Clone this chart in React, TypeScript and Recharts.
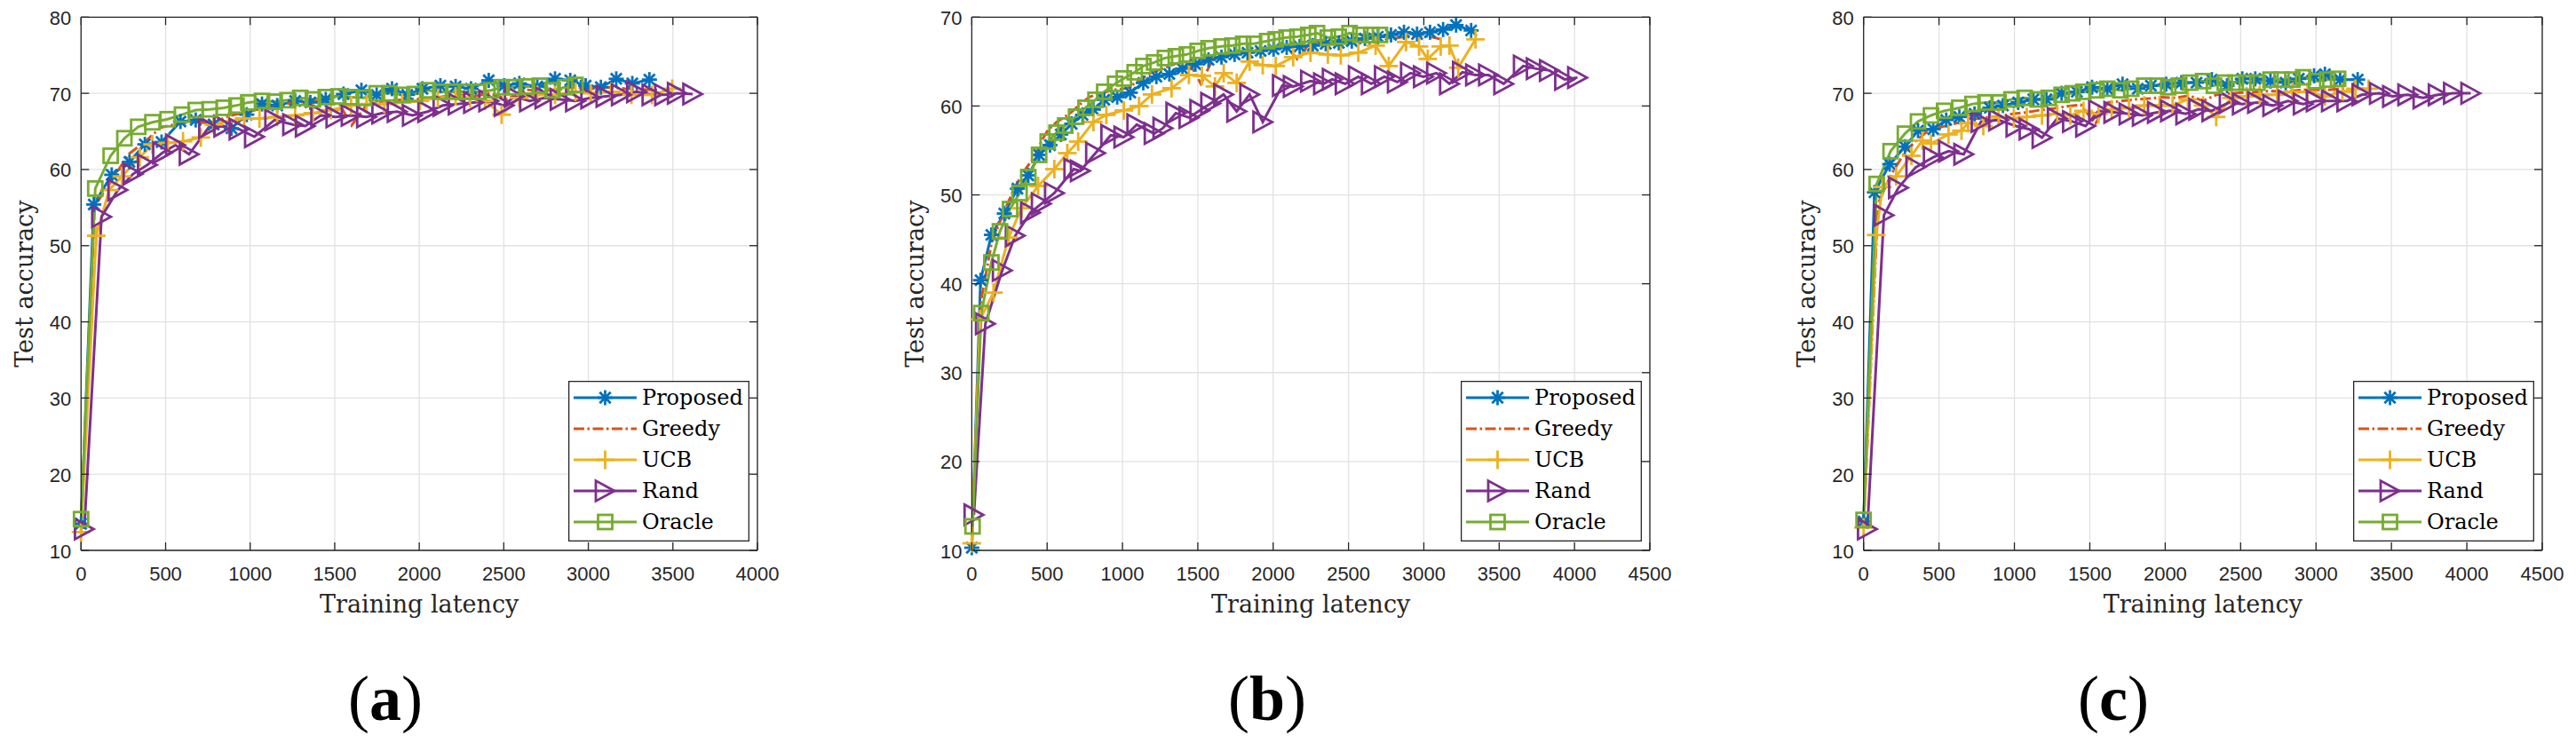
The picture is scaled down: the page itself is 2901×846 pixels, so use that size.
import React from 'react';
import { LineChart, Line, XAxis, YAxis, CartesianGrid, ReferenceLine, Legend } from 'recharts';

// ---------- Panel (a) ----------
const A_PROPOSED_X = [0, 75, 181, 286, 377, 476, 588, 678, 784, 889, 980, 1070, 1160, 1266, 1356, 1447, 1552, 1658, 1748, 1839, 1929, 2019, 2125, 2215, 2306, 2411, 2502, 2592, 2698, 2803, 2893, 2984, 3074, 3165, 3260, 3361];
const A_PROPOSED_Y = [13.5, 55.4, 59.3, 61.0, 63.3, 63.6, 66.3, 66.5, 65.9, 65.4, 67.2, 68.6, 68.4, 69.0, 68.8, 69.2, 69.9, 70.4, 69.8, 70.6, 69.8, 70.6, 71.0, 70.9, 70.6, 71.7, 71.0, 71.3, 70.9, 71.9, 71.7, 71.0, 70.8, 71.9, 71.3, 71.8];
const A_GREEDY_X = [0, 80, 180, 280, 370, 470, 570, 670, 770, 870, 970, 1070, 1170, 1270, 1370, 1470, 1530, 1600, 1690, 1820, 1920, 2020, 2120, 2220, 2320, 2420, 2520, 2620, 2720, 2820, 2920, 3020, 3120, 3220, 3320, 3420];
const A_GREEDY_Y = [13.3, 55.2, 58.5, 62.0, 63.5, 65.5, 66.0, 66.3, 66.0, 67.0, 67.5, 68.0, 68.5, 68.8, 69.0, 68.7, 68.5, 65.8, 68.5, 69.0, 69.2, 69.3, 69.5, 69.8, 69.6, 70.0, 69.2, 70.5, 70.3, 70.5, 70.8, 70.6, 70.8, 70.6, 70.5, 70.4];
const A_UCB_X = [0, 90, 166, 241, 347, 422, 512, 603, 708, 784, 874, 964, 1055, 1160, 1266, 1371, 1477, 1597, 1688, 1793, 1899, 2004, 2110, 2215, 2300, 2390, 2487, 2592, 2698, 2803, 2924, 3014, 3135, 3255, 3376, 3496];
const A_UCB_Y = [12.4, 51.3, 57.3, 59.1, 61.6, 63.3, 63.5, 63.7, 64.2, 65.9, 66.3, 66.7, 66.7, 66.9, 67.1, 67.4, 67.8, 68.4, 68.6, 68.6, 68.8, 69.0, 69.4, 69.6, 69.4, 69.0, 67.2, 69.4, 69.8, 69.8, 70.2, 70.0, 70.2, 69.8, 69.8, 70.6];
const A_RAND_X = [19, 121, 217, 307, 392, 482, 558, 639, 754, 844, 934, 1025, 1145, 1251, 1326, 1417, 1507, 1597, 1688, 1778, 1869, 1959, 2050, 2140, 2230, 2321, 2411, 2502, 2562, 2652, 2743, 2833, 2924, 3014, 3104, 3195, 3285, 3376, 3451, 3526, 3617];
const A_RAND_Y = [12.8, 53.8, 57.3, 59.4, 60.6, 62.2, 63.2, 62.0, 65.5, 65.7, 65.3, 64.3, 66.5, 65.9, 65.7, 67.1, 66.9, 67.1, 66.9, 67.4, 67.6, 67.1, 67.6, 68.4, 68.6, 68.8, 69.0, 68.4, 69.6, 69.0, 69.4, 69.2, 69.0, 69.4, 69.6, 69.8, 70.2, 69.8, 69.8, 70.0, 69.9];
const A_ORACLE_X = [0, 84, 175, 256, 338, 422, 512, 597, 678, 760, 844, 919, 989, 1070, 1145, 1221, 1296, 1371, 1447, 1522, 1597, 1673, 1748, 1823, 1899, 1974, 2050, 2125, 2200, 2276, 2351, 2426, 2487, 2562, 2637, 2713, 2788, 2863, 2924];
const A_ORACLE_Y = [14.1, 57.5, 61.8, 64.1, 65.6, 66.2, 66.6, 67.2, 67.8, 67.9, 68.1, 68.4, 68.8, 69.0, 68.9, 69.1, 69.4, 69.2, 69.5, 69.6, 69.5, 69.4, 70.0, 70.0, 69.8, 69.9, 70.4, 70.2, 70.2, 70.2, 70.2, 70.4, 70.8, 70.8, 70.9, 71.0, 70.4, 70.8, 71.1];

// ---------- Panel (b) ----------
const B_PROPOSED_X = [0, 58, 130, 216, 303, 375, 447, 519, 591, 663, 735, 807, 879, 965, 1052, 1138, 1225, 1311, 1398, 1484, 1571, 1657, 1744, 1830, 1917, 2003, 2090, 2176, 2263, 2349, 2436, 2522, 2609, 2695, 2782, 2868, 2955, 3041, 3128, 3214, 3314];
const B_PROPOSED_Y = [10.3, 40.4, 45.5, 47.9, 50.7, 52.2, 54.5, 55.6, 56.8, 58.0, 59.0, 59.6, 60.7, 61.0, 61.5, 62.6, 63.3, 63.6, 64.2, 64.7, 65.2, 65.5, 65.8, 66.0, 66.2, 66.4, 66.6, 66.7, 66.8, 67.0, 67.1, 67.3, 67.6, 67.8, 68.0, 68.3, 68.1, 68.3, 68.6, 69.1, 68.5];
const B_GREEDY_X = [0, 60, 130, 210, 290, 360, 417, 470, 506, 563, 610, 661, 720, 779, 850, 935, 1033, 1120, 1200, 1280, 1360, 1440, 1520, 1600, 1680, 1760, 1840, 1920, 2000, 2080, 2160, 2240, 2320, 2400, 2480, 2560, 2640, 2720, 2800, 2880, 2960, 3040, 3120];
const B_GREEDY_Y = [10.5, 38.0, 44.5, 48.0, 51.0, 53.0, 54.3, 56.3, 57.3, 58.2, 58.7, 59.3, 60.2, 61.0, 61.4, 61.8, 62.0, 63.0, 63.8, 64.3, 64.8, 65.0, 62.5, 65.3, 65.8, 66.0, 66.2, 66.4, 66.5, 66.8, 65.3, 67.0, 67.2, 67.3, 67.5, 67.3, 67.6, 67.8, 67.6, 67.8, 68.0, 67.8, 67.5];
const B_UCB_X = [0, 55, 144, 245, 330, 440, 548, 634, 706, 807, 893, 1009, 1110, 1196, 1326, 1441, 1527, 1614, 1672, 1758, 1844, 1931, 2017, 2133, 2248, 2363, 2449, 2565, 2680, 2767, 2882, 2968, 3026, 3112, 3170, 3228, 3343];
const B_UCB_Y = [10.8, 36.0, 39.0, 45.2, 48.5, 51.0, 52.9, 54.7, 56.0, 58.2, 59.0, 59.5, 60.0, 61.3, 62.0, 63.5, 63.4, 62.2, 63.7, 62.6, 65.0, 64.6, 64.5, 65.5, 66.0, 65.8, 65.7, 66.0, 66.8, 64.5, 67.2, 66.7, 65.3, 66.7, 66.8, 64.3, 67.5];
const B_RAND_X = [14, 90, 202, 288, 389, 461, 548, 677, 720, 821, 922, 1009, 1095, 1210, 1268, 1354, 1441, 1513, 1585, 1671, 1758, 1844, 1931, 2061, 2133, 2248, 2334, 2392, 2478, 2565, 2651, 2738, 2824, 2911, 2997, 3084, 3170, 3256, 3343, 3429, 3530, 3660, 3746, 3833, 3934, 4020];
const B_RAND_Y = [14.0, 35.5, 41.5, 45.4, 48.0, 49.0, 50.2, 52.9, 52.7, 54.7, 56.7, 56.5, 57.9, 56.9, 57.5, 59.2, 58.7, 59.5, 60.3, 61.3, 59.4, 61.3, 58.2, 62.3, 62.2, 62.8, 62.5, 63.0, 62.5, 63.3, 62.5, 63.3, 62.7, 63.7, 63.3, 63.7, 62.5, 63.8, 63.5, 63.5, 62.5, 64.5, 64.2, 64.0, 63.0, 63.2];
const B_ORACLE_X = [5, 63, 130, 187, 254, 317, 375, 447, 504, 562, 620, 692, 755, 821, 879, 951, 1009, 1081, 1139, 1210, 1282, 1354, 1427, 1499, 1571, 1657, 1729, 1801, 1873, 1960, 2017, 2089, 2161, 2233, 2291, 2363, 2435, 2507, 2579, 2651, 2709];
const B_ORACLE_Y = [12.7, 36.7, 42.4, 45.9, 48.4, 50.2, 52.0, 54.5, 56.0, 57.0, 57.8, 58.8, 59.8, 60.7, 61.6, 62.5, 63.1, 63.8, 64.5, 64.9, 65.4, 65.6, 65.8, 66.2, 66.5, 66.7, 66.8, 67.0, 67.0, 67.3, 67.5, 67.7, 67.8, 68.0, 68.2, 67.7, 67.8, 68.2, 68.0, 68.0, 68.0];

// ---------- Panel (c) ----------
const C_PROPOSED_X = [0, 72, 173, 274, 361, 462, 548, 635, 736, 837, 924, 1025, 1126, 1212, 1313, 1414, 1515, 1616, 1717, 1818, 1905, 2006, 2107, 2208, 2309, 2410, 2511, 2597, 2698, 2799, 2886, 2987, 3059, 3160, 3276];
const C_PROPOSED_Y = [13.8, 57.0, 60.7, 63.0, 65.1, 65.3, 66.5, 66.9, 67.3, 68.1, 68.4, 68.8, 69.2, 69.2, 70.0, 70.2, 70.8, 70.6, 71.2, 70.6, 71.0, 71.2, 71.4, 71.4, 71.8, 71.0, 71.9, 71.9, 71.6, 71.4, 71.9, 72.3, 72.5, 71.8, 71.8];
const C_GREEDY_X = [0, 96, 184, 282, 360, 437, 520, 635, 720, 810, 900, 990, 1080, 1170, 1260, 1350, 1440, 1537, 1620, 1710, 1800, 1890, 1980, 2070, 2160, 2250, 2340, 2430, 2520, 2610, 2700, 2790, 2880, 2970, 3060, 3150, 3240];
const C_GREEDY_Y = [13.2, 55.5, 59.4, 62.5, 64.0, 65.2, 65.6, 66.2, 66.6, 66.8, 67.0, 67.3, 67.5, 67.8, 68.0, 68.3, 68.5, 66.0, 68.8, 69.0, 69.2, 69.3, 69.5, 69.4, 69.7, 69.0, 69.8, 70.0, 70.1, 70.2, 70.3, 70.2, 70.4, 70.5, 70.4, 70.6, 70.5];
const C_UCB_X = [0, 84, 125, 216, 317, 390, 447, 563, 649, 693, 794, 895, 996, 1082, 1183, 1284, 1371, 1458, 1558, 1645, 1760, 1861, 1962, 2049, 2150, 2251, 2338, 2439, 2540, 2626, 2742, 2843, 2944, 3059, 3175, 3261, 3348];
const C_UCB_Y = [13.0, 51.4, 57.7, 59.1, 61.8, 63.8, 63.4, 64.6, 65.1, 66.1, 65.7, 66.9, 66.7, 66.9, 67.1, 67.3, 67.1, 67.7, 67.3, 67.9, 68.1, 68.4, 68.4, 68.4, 69.2, 68.4, 66.9, 69.4, 69.6, 69.8, 69.8, 70.2, 70.2, 69.6, 70.2, 70.6, 70.6];
const C_RAND_X = [25, 135, 231, 346, 462, 563, 664, 779, 895, 1010, 1097, 1183, 1284, 1385, 1472, 1558, 1659, 1760, 1848, 1948, 2035, 2136, 2222, 2309, 2424, 2511, 2612, 2713, 2814, 2915, 3001, 3102, 3204, 3304, 3420, 3507, 3608, 3709, 3810, 3911, 4026];
const C_RAND_Y = [12.8, 54.0, 57.6, 60.3, 61.6, 62.4, 62.0, 66.3, 66.5, 65.7, 65.3, 64.2, 66.7, 66.3, 65.7, 67.7, 67.5, 67.3, 67.1, 67.5, 67.7, 67.3, 67.9, 67.7, 68.8, 68.6, 68.8, 68.4, 69.0, 68.6, 69.0, 69.0, 69.0, 69.8, 70.0, 69.6, 69.8, 69.4, 69.8, 70.0, 70.0];
const C_ORACLE_X = [0, 87, 179, 274, 361, 447, 534, 635, 722, 808, 895, 981, 1068, 1154, 1227, 1313, 1385, 1457, 1544, 1616, 1703, 1775, 1861, 1948, 2020, 2092, 2165, 2251, 2323, 2395, 2468, 2540, 2612, 2698, 2771, 2843, 2915, 3001, 3074, 3146];
const C_ORACLE_Y = [14.0, 58.1, 62.4, 64.7, 66.3, 67.1, 67.7, 68.1, 68.6, 68.8, 68.8, 69.2, 69.4, 69.2, 69.4, 69.8, 70.0, 70.2, 70.4, 70.6, 70.4, 70.6, 71.0, 71.0, 70.8, 71.0, 71.4, 71.6, 71.0, 71.4, 71.4, 71.4, 71.4, 71.8, 71.8, 71.8, 72.1, 71.6, 71.8, 71.9];

// ---------- Axes / labels ----------
const X_TICKS_A = [0, 500, 1000, 1500, 2000, 2500, 3000, 3500, 4000];
const X_TICKS_BC = [0, 500, 1000, 1500, 2000, 2500, 3000, 3500, 4000, 4500];
const Y_TICKS_AC = [10, 20, 30, 40, 50, 60, 70, 80];
const Y_TICKS_B = [10, 20, 30, 40, 50, 60, 70];
const SERIES_NAMES = ['Proposed', 'Greedy', 'UCB', 'Rand', 'Oracle'];
const SERIES_COLORS = ['#0072BD', '#D95319', '#EDB120', '#7E2F8E', '#77AC30'];
const SERIES_MARKERS = ['star', 'none', 'plus', 'tri', 'square'];
const SERIES_DASH = ['', '12 3.5 2.5 3.5', '', '', ''];
const X_LABEL = 'Training latency';
const Y_LABEL = 'Test accuracy';
const CAPTIONS = ['a', 'b', 'c'];

const AXIS_COLOR = '#262626';
const GRID_COLOR = '#e2e2e2';
const TICK_FONT = '"Liberation Sans", Arial, Helvetica, sans-serif';
const SERIF_FONT = '"DejaVu Serif", serif';
const CAPTION_FONT = '"Liberation Serif", "Times New Roman", serif';
const CHART_H = 846;
const PLOT_TOP = 19.3;
const PLOT_BOTTOM = 620;
const X_AXIS_H = 60;
const LINE_W = 3;
const MARK_W = 2.8;

const toData = (xs: number[], ys: number[]) => xs.map((x, i) => ({ x, y: ys[i] }));

function Marker({ kind, cx, cy, color }: { kind: string; cx: number; cy: number; color: string }) {
  if (kind === 'star') {
    const r = 8.5;
    const d = 6.2;
    return (
      <g stroke={color} strokeWidth={MARK_W} fill="none">
        <line x1={cx - r} y1={cy} x2={cx + r} y2={cy} />
        <line x1={cx} y1={cy - r} x2={cx} y2={cy + r} />
        <line x1={cx - d} y1={cy - d} x2={cx + d} y2={cy + d} />
        <line x1={cx - d} y1={cy + d} x2={cx + d} y2={cy - d} />
      </g>
    );
  }
  if (kind === 'plus') {
    const r = 10.5;
    return (
      <g stroke={color} strokeWidth={MARK_W} fill="none">
        <line x1={cx - r} y1={cy} x2={cx + r} y2={cy} />
        <line x1={cx} y1={cy - r} x2={cx} y2={cy + r} />
      </g>
    );
  }
  if (kind === 'tri') {
    const w = 10.5;
    const h = 11.5;
    return (
      <polygon
        points={`${cx + w},${cy} ${cx - w},${cy - h} ${cx - w},${cy + h}`}
        stroke={color}
        strokeWidth={MARK_W}
        fill="none"
      />
    );
  }
  if (kind === 'square') {
    const s = 8;
    return <rect x={cx - s} y={cy - s} width={2 * s} height={2 * s} stroke={color} strokeWidth={MARK_W} fill="none" />;
  }
  return null;
}

type PanelDef = {
  left: number;
  width: number;
  plotLeft: number;
  plotRight: number;
  xMax: number;
  yMax: number;
  xTicks: number[];
  yTicks: number[];
  captionX: number;
  caption: string;
  series: { x: number[]; y: number[] }[];
};

const PANELS: PanelDef[] = [
  {
    left: 0, width: 1000, plotLeft: 91.3, plotRight: 853, xMax: 4000, yMax: 80,
    xTicks: X_TICKS_A, yTicks: Y_TICKS_AC, captionX: 434, caption: CAPTIONS[0],
    series: [
      { x: A_PROPOSED_X, y: A_PROPOSED_Y },
      { x: A_GREEDY_X, y: A_GREEDY_Y },
      { x: A_UCB_X, y: A_UCB_Y },
      { x: A_RAND_X, y: A_RAND_Y },
      { x: A_ORACLE_X, y: A_ORACLE_Y },
    ],
  },
  {
    left: 1000, width: 1000, plotLeft: 1094.4, plotRight: 1858, xMax: 4500, yMax: 70,
    xTicks: X_TICKS_BC, yTicks: Y_TICKS_B, captionX: 1427, caption: CAPTIONS[1],
    series: [
      { x: B_PROPOSED_X, y: B_PROPOSED_Y },
      { x: B_GREEDY_X, y: B_GREEDY_Y },
      { x: B_UCB_X, y: B_UCB_Y },
      { x: B_RAND_X, y: B_RAND_Y },
      { x: B_ORACLE_X, y: B_ORACLE_Y },
    ],
  },
  {
    left: 2000, width: 901, plotLeft: 2098.7, plotRight: 2863, xMax: 4500, yMax: 80,
    xTicks: X_TICKS_BC, yTicks: Y_TICKS_AC, captionX: 2380, caption: CAPTIONS[2],
    series: [
      { x: C_PROPOSED_X, y: C_PROPOSED_Y },
      { x: C_GREEDY_X, y: C_GREEDY_Y },
      { x: C_UCB_X, y: C_UCB_Y },
      { x: C_RAND_X, y: C_RAND_Y },
      { x: C_ORACLE_X, y: C_ORACLE_Y },
    ],
  },
];

const LEGEND_W = 204;
const LEGEND_H = 181;
const LEGEND_TOP = 429;

function LegendBox() {
  return (
    <svg width={LEGEND_W} height={LEGEND_H} style={{ display: 'block' }}>
      <rect x={0.65} y={0.65} width={LEGEND_W - 1.3} height={LEGEND_H - 1.3} fill="#ffffff" stroke={AXIS_COLOR} strokeWidth={1.3} />
      {SERIES_NAMES.map((name, i) => {
        const cy = 19 + 35 * i;
        return (
          <g key={name}>
            <line
              x1={6}
              x2={77}
              y1={cy}
              y2={cy}
              stroke={SERIES_COLORS[i]}
              strokeWidth={LINE_W}
              strokeDasharray={SERIES_DASH[i] || undefined}
            />
            <Marker kind={SERIES_MARKERS[i]} cx={41.5} cy={cy} color={SERIES_COLORS[i]} />
            <text x={83} y={cy + 8} fontFamily={SERIF_FONT} fontSize={24} fill="#000">
              {name}
            </text>
          </g>
        );
      })}
    </svg>
  );
}

function Panel({ p }: { p: PanelDef }) {
  const localLeft = p.plotLeft - p.left;
  const localRight = p.plotRight - p.left;
  const centerX = (localLeft + localRight) / 2;
  const margin = { top: PLOT_TOP, left: 0, right: p.width - localRight, bottom: CHART_H - PLOT_BOTTOM - X_AXIS_H };

  const XTick = (props: any) => {
    const { x, payload } = props;
    return (
      <g>
        <line x1={x} x2={x} y1={PLOT_BOTTOM} y2={PLOT_BOTTOM - 9} stroke={AXIS_COLOR} strokeWidth={1.3} />
        <line x1={x} x2={x} y1={PLOT_TOP} y2={PLOT_TOP + 9} stroke={AXIS_COLOR} strokeWidth={1.3} />
        <text x={x} y={PLOT_BOTTOM + 33.5} textAnchor="middle" fontFamily={TICK_FONT} fontSize={22} fill={AXIS_COLOR}>
          {payload.value}
        </text>
      </g>
    );
  };

  const YTick = (props: any) => {
    const { y, payload } = props;
    return (
      <g>
        <line x1={localLeft} x2={localLeft + 9} y1={y} y2={y} stroke={AXIS_COLOR} strokeWidth={1.3} />
        <line x1={localRight} x2={localRight - 9} y1={y} y2={y} stroke={AXIS_COLOR} strokeWidth={1.3} />
        <text x={localLeft - 11} y={y + 8.5} textAnchor="end" fontFamily={TICK_FONT} fontSize={22} fill={AXIS_COLOR}>
          {payload.value}
        </text>
      </g>
    );
  };

  const xLabel = () => (
    <text x={centerX} y={690} textAnchor="middle" fontFamily={SERIF_FONT} fontSize={27} fill={AXIS_COLOR}>
      {X_LABEL}
    </text>
  );
  const yLabelX = localLeft - 54.3;
  const yLabelY = (PLOT_TOP + PLOT_BOTTOM) / 2;
  const yLabel = () => (
    <text
      x={yLabelX}
      y={yLabelY}
      transform={`rotate(-90, ${yLabelX}, ${yLabelY})`}
      textAnchor="middle"
      fontFamily={SERIF_FONT}
      fontSize={27}
      fill={AXIS_COLOR}
    >
      {Y_LABEL}
    </text>
  );

  return (
    <div style={{ position: 'absolute', left: p.left, top: 0, width: p.width, height: CHART_H }}>
      <LineChart width={p.width} height={CHART_H} margin={margin}>
        <CartesianGrid stroke={GRID_COLOR} strokeWidth={1.3} />
        <XAxis
          dataKey="x"
          type="number"
          domain={[0, p.xMax]}
          ticks={p.xTicks}
          interval={0}
          height={X_AXIS_H}
          tickSize={0}
          tickMargin={0}
          tickLine={false}
          tick={XTick}
          axisLine={{ stroke: AXIS_COLOR, strokeWidth: 1.3 }}
          allowDuplicatedCategory={false}
          label={xLabel}
        />
        <YAxis
          type="number"
          domain={[10, p.yMax]}
          ticks={p.yTicks}
          interval={0}
          width={localLeft}
          tickSize={0}
          tickMargin={0}
          tickLine={false}
          tick={YTick}
          axisLine={{ stroke: AXIS_COLOR, strokeWidth: 1.3 }}
          label={yLabel}
        />
        <ReferenceLine y={p.yMax} stroke={AXIS_COLOR} strokeWidth={1.3} />
        <ReferenceLine x={p.xMax} stroke={AXIS_COLOR} strokeWidth={1.3} />
        {p.series.map((s, i) => (
          <Line
            key={SERIES_NAMES[i]}
            data={toData(s.x, s.y)}
            dataKey="y"
            name={SERIES_NAMES[i]}
            type="linear"
            stroke={SERIES_COLORS[i]}
            strokeWidth={LINE_W}
            strokeDasharray={SERIES_DASH[i] || undefined}
            isAnimationActive={false}
            activeDot={false}
            dot={
              SERIES_MARKERS[i] === 'none'
                ? false
                : (dp: any) => (
                    <g key={`m-${i}-${dp.index}`}>
                      <Marker kind={SERIES_MARKERS[i]} cx={dp.cx} cy={dp.cy} color={SERIES_COLORS[i]} />
                    </g>
                  )
            }
          />
        ))}
        <Legend
          layout="vertical"
          align="center"
          verticalAlign="middle"
          content={() => <LegendBox />}
          wrapperStyle={{ position: 'absolute', left: localRight - 213.3, top: LEGEND_TOP, width: LEGEND_W, height: LEGEND_H }}
        />
      </LineChart>
      <div
        style={{
          position: 'absolute',
          left: p.captionX - p.left - 100,
          top: 750.7,
          width: 200,
          textAlign: 'center',
          fontFamily: CAPTION_FONT,
          fontSize: 72,
          lineHeight: '72px',
          color: '#000',
        }}
      >
        (<b>{p.caption}</b>)
      </div>
    </div>
  );
}

export default function App() {
  return (
    <div style={{ position: 'absolute', left: 0, top: 0, width: 2901, height: 846, background: '#ffffff', overflow: 'hidden' }}>
      {PANELS.map((p) => (
        <Panel key={p.caption} p={p} />
      ))}
    </div>
  );
}
